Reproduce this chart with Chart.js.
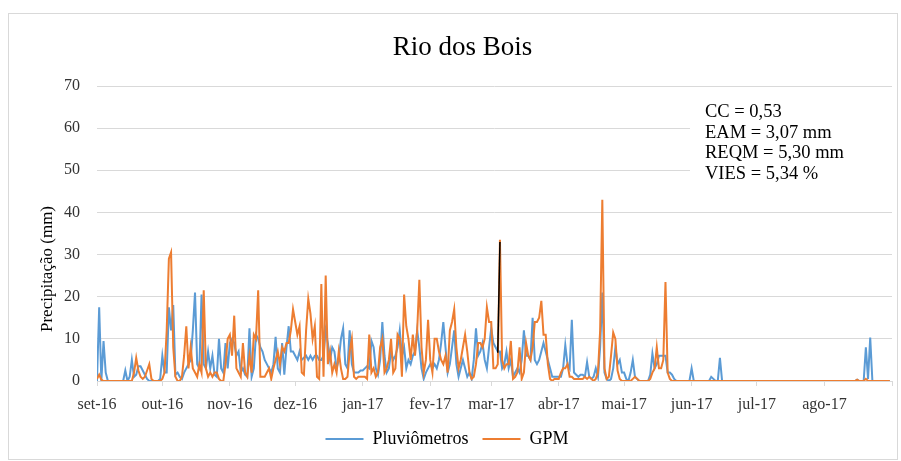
<!DOCTYPE html>
<html>
<head>
<meta charset="utf-8">
<title>Rio dos Bois</title>
<script src="https://cdn.jsdelivr.net/npm/chart.js@4.4.0/dist/chart.umd.min.js"></script>
<style>
  html, body { margin: 0; padding: 0; background: #fff; }
</style>
</head>
<body>
<canvas id="chart" width="901" height="461"></canvas>
<script>
// Daily precipitation, set-16 .. ago-17 (day 0 = 1 Sep 2016)
const monthStarts = [0, 30, 61, 91, 122, 153, 181, 212, 242, 273, 303, 334, 365];
const monthLabels = ['set-16', 'out-16', 'nov-16', 'dez-16', 'jan-17', 'fev-17', 'mar-17', 'abr-17', 'mai-17', 'jun-17', 'jul-17', 'ago-17', ''];
const yTicks = [0, 10, 20, 30, 40, 50, 60, 70];

const pluviometros = [
  /* set */ 0,17.5,0,9.5,2,0,0,0,0,0,0,0,0,2.5,0,1,5,1,1.5,3.5,3.5,2.5,1.5,0.5,0,0,0,0,0,0.5,
  /* out */ 6,2,2,17.5,12,18,1.5,2,1,0.5,2,3,4,5,12,21,4,3,20.5,4,3,7,3,6,1.5,1,10,3,2,9,3,
  /* nov */ 9,10,9,6,7,2,3,1.5,1,12.5,1,3,11,10,8,7,5,4,3,2,4,10.5,3,2,9,1.5,8,13,7,7,
  /* dez */ 6,5,7,5,5.5,6,5,6,5,6,6,5,5,6,12,9,5,8,7,3,5,10,12.5,4,3,12,4,2,2,2,2.5,
  /* jan */ 2.5,3,3.5,3,9.5,8,3,1.5,5,14,6,2,3,7,5,6,8,12,6,8,3,5,4,6,7,12,8,3,0.5,2,3,
  /* fev */ 4,3,4,3,5,9,14,8,2,4,8,12,4,1,3,5,3,1,2,0.5,5,12.5,6,7,9,5,3,8,
  /* mar */ 12.5,9,8,7,7,3,4,7,3,5,1,2,3,2,5,12,6,6,5,15,5,4,5,7,9,7,5,3,1,1,1,
  /* abr */ 1,1,3,8.5,4,3,14.5,2,1.5,1,1.5,1.5,1,4.5,1,0.5,1,3,1,8,21,2,0.5,0,0.5,3,8,4,5,2,
  /* mai */ 2,0.5,0,2,5,1,0.5,0,0,0,0,0,1.5,6.5,3,4,6,6,6,6,2,2,1.5,0.5,0,0,0,0,0,0,0,
  /* jun */ 3,0,0,0,0,0,0,0,0,1,0.5,0,0,5.5,0,0,0,0,0,0,0,0,0,0,0,0,0,0,0,0,
  /* jul */ 0,0,0,0,0,0,0,0,0,0,0,0,0,0,0,0,0,0,0,0,0,0,0,0,0,0,0,0,0,0,0,
  /* ago */ 0,0,0,0,0,0,0,0,0,0,0,0,0,0,0,0.3,0,0,0,8,0.5,10.3,0,0,0,0,0,0,0,0,0
];

const gpm = [
  /* set */ 0.5,1.5,0.3,0,0,0,0,0,0,0,0,0,0,0,0,0,0,2,5.5,2.5,1,0.5,1,2.5,4,0.5,0,0,0,0,
  /* out */ 0.5,2,12,29,30.5,8,1,0,0,1,6,13,3,8,3,2,1,4,2,21.5,3,1,2,1,2,2,0.5,0,0,4,10,
  /* nov */ 11,6,15.5,3,2,1,9,2,1,6,2,11,10,21.5,1,1,1,2,3,0.5,3,5,7,4,8,7,9,9,12,17,
  /* dez */ 14,11,13,2,1.5,12,19.5,16,10,13,1,0.5,23,1,25,4,7,2,4,2,7,3,0.5,0.5,1,7,10,1,0.5,1,1,
  /* jan */ 1,1,0.5,11,2,3,1,2,8,10,2,3,5,10,2,3,11,10,1,20.5,13,10,5,11,6,12,24,8,2,5,14.5,
  /* fev */ 5,2,10,10,7,5,4,6,2,12,14,17,8,3,5,8,11,7,2,0.5,1,4,9,9,8,10,17.5,14,
  /* mar */ 14,3,3,4,33.5,5,3,4,4,9.5,0.5,1,2,8,0.5,2,9,6,5,8,14,14,15,19,11,11,4,0.5,0,0.5,0.5,
  /* abr */ 0.5,2,3,3,4,1,1,0.5,0.5,0.5,0.5,0.5,1,0.5,1,0.5,0,0.5,2,12,43,3,0.5,1,6,11.5,10,2.5,0.5,0,
  /* mai */ 0,0,0,0,0.5,1,0.5,0,0,0,0,0,0.5,2,3,8,3,3,5,23.5,2,0.5,0,0,0,0,0,0,0,0,0,
  /* jun */ 0,0,0,0,0,0,0,0,0,0,0,0,0,0,0,0,0,0,0,0,0,0,0,0,0,0,0,0,0,0,
  /* jul */ 0,0,0,0,0,0,0,0,0,0,0,0,0,0,0,0,0,0,0,0,0,0,0,0,0,0,0,0,0,0,0,
  /* ago */ 0,0,0,0,0,0,0,0,0,0,0,0,0,0,0,0.3,0,0,0,0.5,0,0,0,0,0,0,0,0,0,0,0
];

// stray dark segment seen in early March
const blackDays = [184, 185];
const blackValues = [6.7, 33];

const statsLines = ['CC = 0,53', 'EAM = 3,07 mm', 'REQM = 5,30 mm', 'VIES = 5,34 %'];

const serif = "'Liberation Serif', 'Times New Roman', serif";

const toPoints = arr => arr.map((v, i) => ({ x: i, y: v }));

// title, axis title, stats box and outer frame
const decorations = {
  id: 'decorations',
  beforeDatasetsDraw(chart) {
    const ctx = chart.ctx;
    ctx.save();
    ctx.fillStyle = '#fff';
    ctx.fillRect(690, 93, 204, 97);
    ctx.restore();
  },
  afterDraw(chart) {
    const ctx = chart.ctx;
    ctx.save();
    ctx.strokeStyle = '#d9d9d9';
    ctx.lineWidth = 1;
    ctx.strokeRect(8.5, 13.5, 889, 446);

    ctx.fillStyle = '#000';
    ctx.textAlign = 'center';
    ctx.textBaseline = 'alphabetic';
    ctx.font = '27px ' + serif;
    ctx.fillText('Rio dos Bois', 462.5, 55);

    ctx.save();
    ctx.translate(52, 269);
    ctx.rotate(-Math.PI / 2);
    ctx.font = '17px ' + serif;
    ctx.fillText('Precipitação (mm)', 0, 0);
    ctx.restore();

    ctx.textAlign = 'left';
    ctx.font = '18.5px ' + serif;
    statsLines.forEach((t, i) => ctx.fillText(t, 705, 117 + i * 20.5));
    ctx.restore();
  }
};

new Chart(document.getElementById('chart'), {
  type: 'line',
  data: {
    datasets: [{
      label: 'Pluviômetros',
      data: toPoints(pluviometros),
      borderColor: '#5B9BD5',
      backgroundColor: '#5B9BD5',
      borderWidth: 2,
      order: 2
    }, {
      label: 'GPM',
      data: toPoints(gpm),
      borderColor: '#ED7D31',
      backgroundColor: '#ED7D31',
      borderWidth: 2,
      order: 1
    }, {
      label: '',
      data: blackDays.map((d, i) => ({ x: d, y: blackValues[i] })),
      borderColor: '#000',
      backgroundColor: '#000',
      borderWidth: 1.5,
      order: 0
    }]
  },
  options: {
    responsive: false,
    animation: false,
    devicePixelRatio: 1,
    elements: {
      point: { radius: 0, hoverRadius: 0 },
      line: { tension: 0, fill: false }
    },
    layout: { padding: { left: 0, right: 7, top: 86, bottom: 3 } },
    scales: {
      x: {
        type: 'linear',
        min: 0,
        max: 365,
        afterBuildTicks: s => { s.ticks = monthStarts.map(v => ({ value: v })); },
        afterFit: s => { s.height = 35; },
        ticks: {
          autoSkip: false,
          maxRotation: 0,
          padding: 9,
          color: '#333',
          font: { family: serif, size: 16 },
          callback: v => monthLabels[monthStarts.indexOf(v)]
        },
        grid: { drawOnChartArea: false, drawTicks: true, tickLength: 5, color: '#d9d9d9' },
        border: { display: true, color: '#d9d9d9' }
      },
      y: {
        min: 0,
        max: 70,
        afterBuildTicks: s => { s.ticks = yTicks.map(v => ({ value: v })); },
        afterFit: s => { s.width = 97; },
        ticks: {
          padding: 17,
          color: '#333',
          font: { family: serif, size: 16 }
        },
        grid: { color: '#d9d9d9', drawTicks: false },
        border: { display: false }
      }
    },
    plugins: {
      title: { display: false },
      tooltip: { enabled: false },
      legend: {
        position: 'bottom',
        labels: {
          usePointStyle: true,
          pointStyle: 'line',
          pointStyleWidth: 38,
          padding: 14,
          color: '#000',
          font: { family: serif, size: 18 },
          filter: item => item.text !== '',
          sort: (a, b) => a.datasetIndex - b.datasetIndex
        }
      }
    }
  },
  plugins: [decorations]
});
</script>
</body>
</html>
